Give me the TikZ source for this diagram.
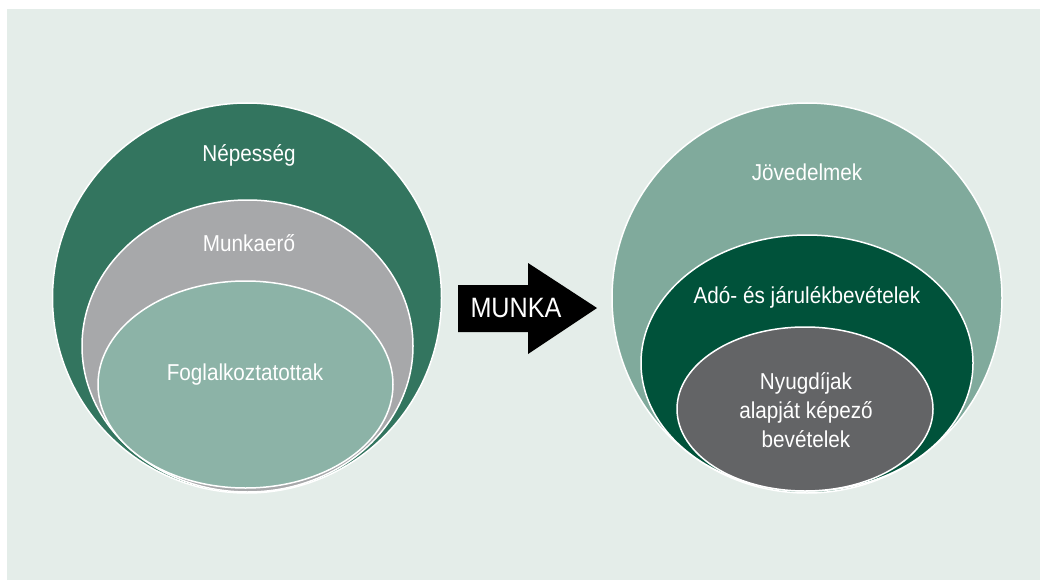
\documentclass[tikz,border=0pt]{standalone}
\usepackage{fontspec}
\setmainfont{Liberation Sans}[FakeStretch=0.9]
\usepackage{tikz}
\usetikzlibrary{shapes.geometric}
\definecolor{bgcol}{HTML}{E4EDE9}
\definecolor{nepcol}{HTML}{33755F}
\definecolor{munkcol}{HTML}{A7A8AA}
\definecolor{fogcol}{HTML}{8CB3A7}
\definecolor{jovcol}{HTML}{80AA9C}
\definecolor{adocol}{HTML}{00523A}
\definecolor{nyucol}{HTML}{636466}

\begin{document}
\begin{tikzpicture}[x=1pt,y=-1pt,
    blob/.style={ellipse,draw=white,line width=1.5pt,inner sep=0pt},
    txt/.style={text=white,font=\fontsize{23}{29}\selectfont,align=center,inner sep=0pt}]
            \useasboundingbox (0,0) rectangle (1040,580);
            \fill[bgcol] (7,9) rectangle (1040,580);

            % left side
            \node[blob,fill=nepcol,minimum width=389pt,minimum height=390pt] (nep) at (247,298) {};
            \node[blob,fill=munkcol,minimum width=331pt,minimum height=292pt] (munk) at (247.5,346) {};
            \node[blob,fill=fogcol,minimum width=295pt,minimum height=207pt] (fog) at (245.5,384.5) {};
            \node[txt] (neptxt) at (249,155) {Népesség};
            \node[txt] (munktxt) at (249,243) {Munkaerő};
            \node[txt] (fogtxt) at (245,375) {Foglalkoztatottak};

            % arrow
            \fill[black] (458,285) -- (528,285) -- (528,263) -- (597,308)
                -- (528,354) -- (528,332) -- (458,332) -- cycle;
            \node[txt,font=\fontsize{28}{32}\selectfont] (munka) at (516,308) {MUNKA};

            % right side
            \node[blob,fill=jovcol,minimum width=390pt,minimum height=390pt] (jov) at (807,298) {};
            \node[blob,fill=adocol,minimum width=332pt,minimum height=256pt] (ado) at (807,363) {};
            \node[blob,fill=nyucol,minimum width=256pt,minimum height=164pt] (nyu) at (805,409) {};
            \node[txt] (jovtxt) at (807,172) {Jövedelmek};
            \node[txt] (adotxt) at (807,297) {Adó- és járulékbevételek};
            \node[txt] (nyutxt) at (806,410) {Nyugdíjak\\alapját képező\\bevételek};
        \end{tikzpicture}
\end{document}
